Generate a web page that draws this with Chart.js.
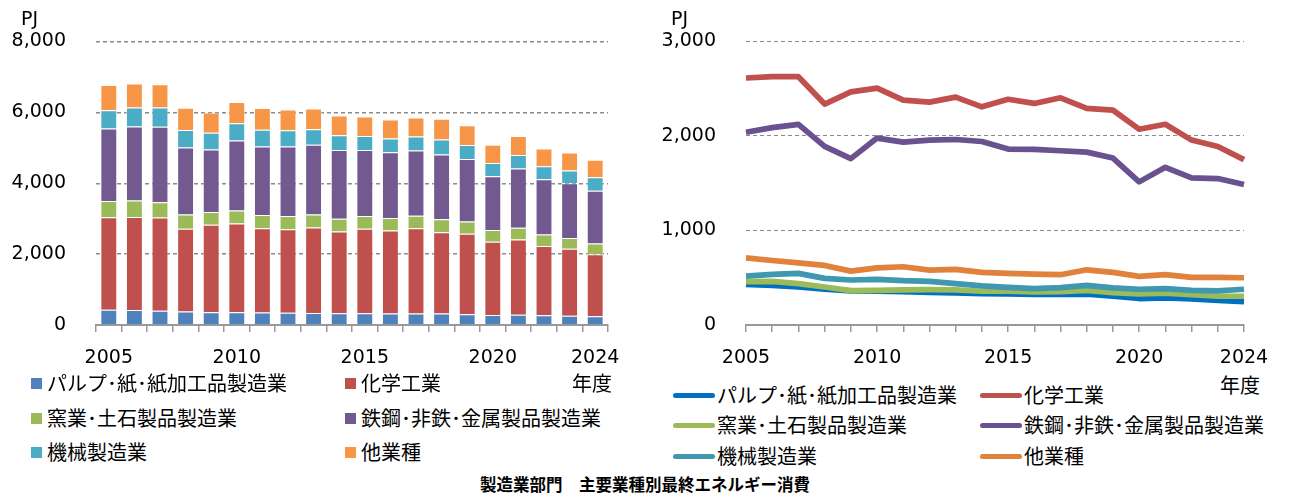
<!DOCTYPE html>
<html><head><meta charset="utf-8">
<script src="https://cdn.jsdelivr.net/npm/chart.js@4.4.0/dist/chart.umd.min.js"></script>
<style>
html,body{margin:0;padding:0;background:#fff;}
body{width:1290px;height:498px;position:relative;overflow:hidden;font-family:"Noto Sans CJK JP",sans-serif;}
.cv{position:absolute;top:0;}
.lbl{position:absolute;font-family:"DejaVu Sans",sans-serif;font-size:19px;color:#000;white-space:nowrap;line-height:1;}
.jp{position:absolute;font-family:"Noto Sans CJK JP",sans-serif;font-size:20px;color:#000;white-space:nowrap;line-height:1;}
.leg{position:absolute;font-family:"Noto Sans CJK JP",sans-serif;font-size:20px;color:#000;white-space:nowrap;line-height:1;display:flex;align-items:center;}
.sq{display:inline-block;width:11px;height:11px;margin-right:5px;}
.ln{display:inline-block;width:42px;height:5px;border-radius:3px;margin-right:2px;}
.title{position:absolute;left:0;width:1290px;top:476px;text-align:center;font-family:"Noto Sans CJK JP",sans-serif;font-weight:bold;font-size:16.5px;line-height:1;}
</style></head>
<body>
<div class="cv" style="left:0;width:640px;height:370px;"><canvas id="c1"></canvas></div>
<div class="cv" style="left:650px;width:640px;height:370px;"><canvas id="c2"></canvas></div>
<div class="lbl" style="left:21px;top:9px;">PJ</div>
<div class="lbl" style="left:671px;top:9px;">PJ</div>
<div class="jp" style="left:572px;top:373px;">年度</div>
<div class="jp" style="left:1220px;top:375px;">年度</div>
<div id="leg1"></div>
<div id="leg2"></div>
<div class="title">製造業部門　主要業種別最終エネルギー消費</div>
<script>
const years = [2005,2006,2007,2008,2009,2010,2011,2012,2013,2014,2015,2016,2017,2018,2019,2020,2021,2022,2023,2024];
const shownYears = [2005,2010,2015,2020,2024];
const seriesNames = ["パルプ･紙･紙加工品製造業","化学工業","窯業･土石製品製造業","鉄鋼･非鉄･金属製品製造業","機械製造業","他業種"];
const pulp     = [430,420,402,378,360,357,353,346,339,332,329,325,325,325,304,280,287,276,259,248];
const chemical = [2613,2627,2627,2337,2466,2505,2379,2358,2410,2308,2388,2344,2403,2291,2273,2071,2123,1956,1889,1749];
const ceramics = [458,462,437,402,364,367,371,374,371,357,357,350,353,367,343,329,336,322,304,304];
const steel    = [2039,2088,2123,1889,1760,1977,1934,1956,1962,1941,1861,1857,1843,1829,1766,1514,1668,1556,1549,1486];
const machinery= [518,535,546,493,476,483,469,462,437,413,399,385,395,420,392,378,385,367,360,378];
const others   = [710,682,658,630,570,605,616,580,588,556,546,538,532,584,556,514,532,504,504,500];
const leftTicks = [0,2000,4000,6000,8000];
const rightTicks = [0,1000,2000,3000];

const barColors  = ["#4F81BD","#C0504D","#9BBB59","#72598F","#4BACC6","#F79646"];
const lineColors = ["#0070C0","#C0504D","#9BBB59","#6A5190","#3F98AF","#E0823B"];
const seriesData = [pulp,chemical,ceramics,steel,machinery,others];

const tickFont = {family:"DejaVu Sans", size:19};
function xTick(v){ const y = years[v]; return shownYears.includes(y) ? String(y) : ''; }
function yTick(v){ return v.toLocaleString('en-US'); }
function gridColor(ctx){ return ctx.tick && ctx.tick.value === 0 ? 'rgba(0,0,0,0)' : '#8a8a8a'; }

new Chart(document.getElementById('c1'), {
  type:'bar',
  data:{labels:years, datasets: seriesData.map((d,i)=>({label:seriesNames[i], data:d, backgroundColor:barColors[i], borderColor:'rgba(255,255,255,0.45)', borderWidth:1, barPercentage:0.66, categoryPercentage:1}))},
  options:{
    responsive:true, maintainAspectRatio:false, animation:false,
    layout:{padding:{top:41,right:32,left:0,bottom:0}},
    plugins:{legend:{display:false}, tooltip:{enabled:false}},
    scales:{
      x:{stacked:true, afterFit:s=>{s.height=45;},
         grid:{display:true, drawOnChartArea:false, drawTicks:true, tickLength:7, color:'#999', lineWidth:1.5},
         border:{display:true, color:'#999', width:2},
         ticks:{callback:(v)=>xTick(v), autoSkip:false, maxRotation:0, font:tickFont, color:'#000', padding:15}},
      y:{stacked:true, min:0, max:8000, afterFit:s=>{s.width=96;},
         afterBuildTicks:s=>{s.ticks = leftTicks.map(v=>({value:v}));},
         grid:{color:gridColor, lineWidth:1.4, drawTicks:false},
         border:{display:false, dash:[4,3]},
         ticks:{callback:(v)=>yTick(v), font:tickFont, color:'#000', padding:30}}
    }
  }
});

new Chart(document.getElementById('c2'), {
  type:'line',
  data:{labels:years, datasets: seriesData.map((d,i)=>({label:seriesNames[i], data:d, borderColor:lineColors[i], backgroundColor:lineColors[i], borderWidth:5.7, pointRadius:0, tension:0, fill:false, order:5-i, borderJoinStyle:'round'}))},
  options:{
    responsive:true, maintainAspectRatio:false, animation:false,
    layout:{padding:{top:39,right:46,left:0,bottom:0}},
    plugins:{legend:{display:false}, tooltip:{enabled:false}},
    scales:{
      x:{offset:false, afterFit:s=>{s.height=45;},
         grid:{display:true, drawOnChartArea:false, drawTicks:true, tickLength:7, color:'#999', lineWidth:1.5},
         border:{display:true, color:'#999', width:2},
         ticks:{callback:(v)=>xTick(v), autoSkip:false, maxRotation:0, font:tickFont, color:'#000', padding:15}},
      y:{min:0, max:3000, afterFit:s=>{s.width=96;},
         afterBuildTicks:s=>{s.ticks = rightTicks.map(v=>({value:v}));},
         grid:{color:gridColor, lineWidth:1, drawTicks:false},
         border:{display:false, dash:[4,3]},
         ticks:{callback:(v)=>yTick(v), font:tickFont, color:'#000', padding:30}}
    }
  }
});

// HTML legends
const leg1Pos = [[31,373],[345,373],[31,408],[345,408],[31,442],[345,442]];
const leg2Pos = [[673,385],[980,385],[673,415],[980,415],[673,446],[980,446]];
const l1 = document.getElementById('leg1'), l2 = document.getElementById('leg2');
seriesNames.forEach((n,i)=>{
  const a = document.createElement('div'); a.className='leg';
  a.style.left=leg1Pos[i][0]+'px'; a.style.top=leg1Pos[i][1]+'px';
  a.innerHTML = '<span class="sq" style="background:'+barColors[i]+'"></span>'+n; l1.appendChild(a);
  const b = document.createElement('div'); b.className='leg';
  b.style.left=leg2Pos[i][0]+'px'; b.style.top=leg2Pos[i][1]+'px';
  b.innerHTML = '<span class="ln" style="background:'+lineColors[i]+'"></span>'+n; l2.appendChild(b);
});
</script>
</body></html>
